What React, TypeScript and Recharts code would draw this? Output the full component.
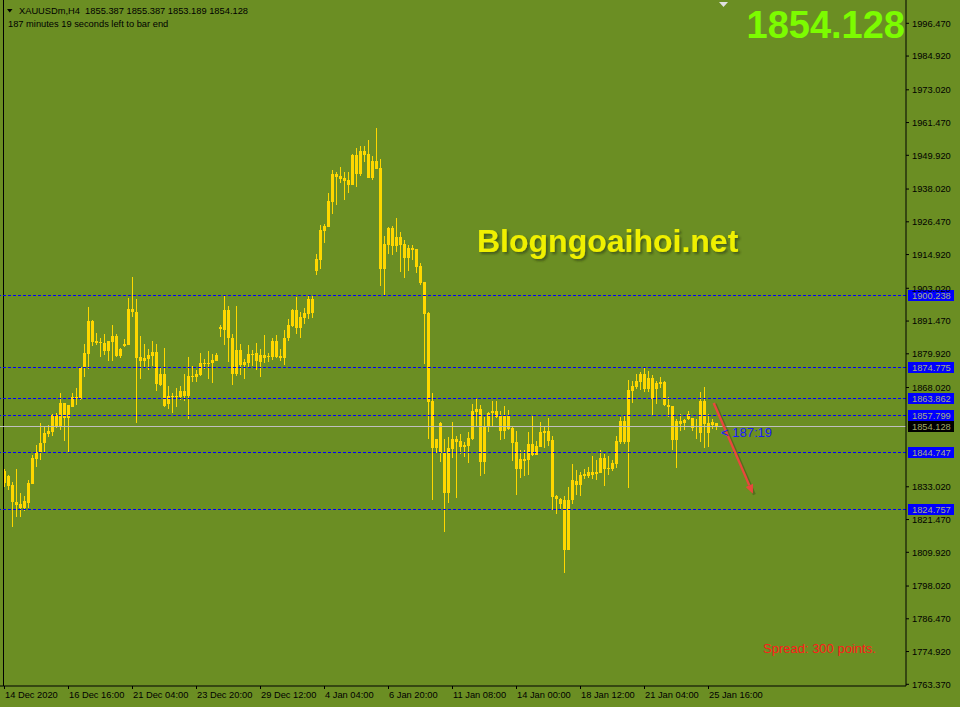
import React from 'react';
import { ComposedChart, Bar, XAxis, YAxis, ReferenceLine } from 'recharts';

// MT4 style XAUUSD H4 chart
const FONT = "Tahoma, 'Liberation Sans', Arial, sans-serif";
const ARIAL = "'Liberation Sans', Arial, sans-serif";
const BG = '#6B8E23';
const GOLD = '#FFD700';

const opens = [
  1838.6, 1836.8, 1833.6, 1827.7, 1825.6, 1825.5, 1827.4, 1834.1, 1842.8, 1845.4,
  1848.6, 1851.8, 1852.4, 1854.2, 1854.2, 1862.6, 1857.4, 1861.3, 1864.2, 1864.0,
  1875.0, 1879.9, 1891.5, 1884.4, 1884.1, 1881.0, 1881.0, 1886.2, 1886.2, 1879.2,
  1882.7, 1883.1, 1895.6, 1894.6, 1878.7, 1877.5, 1878.2, 1880.4, 1880.4, 1872.8,
  1872.8, 1862.1, 1864.6, 1864.6, 1864.8, 1864.9, 1865.1, 1871.9, 1871.9, 1872.5,
  1876.7, 1876.3, 1876.6, 1877.5, 1888.6, 1888.3, 1895.4, 1885.4, 1872.8, 1881.3,
  1876.0, 1876.8, 1879.9, 1880.1, 1877.0, 1879.5, 1878.7, 1884.4, 1884.4, 1878.3,
  1878.5, 1885.4, 1889.6, 1895.4, 1889.0, 1892.5, 1893.8, 1894.4, 1909.1, 1913.0,
  1923.2, 1924.7, 1933.4, 1943.3, 1942.6, 1941.9, 1939.4, 1939.4, 1950.1, 1943.3,
  1951.4, 1950.4, 1941.9, 1947.9, 1945.4, 1909.8, 1918.3, 1924.3, 1917.9, 1921.1,
  1918.6, 1913.7, 1917.2, 1916.9, 1910.9, 1905.3, 1894.3, 1863.3, 1846.7, 1855.5,
  1844.9, 1830.9, 1846.4, 1849.8, 1849.2, 1847.8, 1847.4, 1849.9, 1859.4, 1860.5,
  1841.9, 1854.2, 1858.9, 1859.7, 1858.1, 1852.8, 1858.1, 1853.6, 1848.8, 1839.4,
  1842.8, 1842.5, 1848.1, 1844.3, 1847.2, 1852.7, 1852.7, 1849.5, 1829.8, 1828.7,
  1828.4, 1810.7, 1828.4, 1835.1, 1833.6, 1836.8, 1837.0, 1838.3, 1837.5, 1838.0,
  1843.2, 1839.6, 1839.3, 1841.2, 1848.8, 1856.2, 1848.8, 1866.8, 1868.2, 1870.0,
  1872.7, 1867.4, 1871.5, 1867.6, 1869.2, 1870.0, 1862.0, 1861.4, 1849.4, 1856.2,
  1855.6, 1857.0, 1857.3, 1854.5, 1852.0, 1863.3, 1855.6, 1854.9, 1855.387,
];
const highs = [
  1839.2, 1837.2, 1834.8, 1839.3, 1830.7, 1829.8, 1835.4, 1844.2, 1847.8, 1855.4,
  1854.2, 1854.9, 1858.7, 1858.9, 1866.0, 1862.6, 1861.9, 1866.0, 1867.8, 1875.4,
  1883.4, 1896.4, 1891.8, 1887.1, 1885.4, 1886.9, 1884.4, 1890.1, 1886.9, 1882.1,
  1885.1, 1899.7, 1907.0, 1899.2, 1886.2, 1883.4, 1881.7, 1884.4, 1883.4, 1875.0,
  1881.9, 1868.6, 1866.0, 1868.0, 1868.7, 1872.8, 1878.8, 1875.6, 1874.2, 1880.2,
  1878.2, 1880.9, 1879.9, 1880.2, 1890.2, 1900.4, 1896.8, 1886.9, 1896.8, 1883.4,
  1878.0, 1883.0, 1881.3, 1883.6, 1881.6, 1886.5, 1880.1, 1885.4, 1886.5, 1881.5,
  1888.3, 1892.1, 1895.8, 1899.8, 1894.6, 1896.2, 1900.4, 1900.3, 1915.0, 1925.2,
  1925.7, 1936.6, 1944.7, 1944.0, 1945.8, 1944.0, 1944.0, 1950.5, 1952.6, 1953.2,
  1953.2, 1955.3, 1949.7, 1959.6, 1948.6, 1921.5, 1924.6, 1925.0, 1927.8, 1922.9,
  1920.1, 1918.3, 1918.3, 1916.9, 1911.9, 1905.3, 1894.6, 1866.1, 1849.9, 1855.9,
  1849.9, 1850.5, 1855.9, 1850.9, 1851.8, 1848.8, 1852.3, 1862.2, 1864.0, 1861.9,
  1857.7, 1859.5, 1863.3, 1863.3, 1859.7, 1861.5, 1860.1, 1854.2, 1852.7, 1846.0,
  1846.0, 1852.3, 1857.9, 1849.2, 1855.9, 1854.5, 1857.4, 1850.9, 1830.1, 1829.1,
  1829.8, 1832.9, 1841.1, 1839.0, 1838.3, 1839.3, 1839.9, 1843.9, 1842.5, 1846.0,
  1844.6, 1843.9, 1842.5, 1850.9, 1857.6, 1857.9, 1870.7, 1870.2, 1872.7, 1873.5,
  1875.3, 1873.7, 1872.3, 1870.2, 1871.7, 1870.2, 1864.7, 1861.4, 1857.0, 1858.8,
  1857.0, 1859.6, 1857.3, 1857.0, 1866.4, 1868.2, 1858.8, 1857.0, 1855.387,
];
const lows = [
  1833.1, 1831.9, 1818.9, 1822.5, 1822.5, 1824.6, 1825.4, 1834.1, 1840.1, 1842.5,
  1844.8, 1850.6, 1851.0, 1853.6, 1853.0, 1849.2, 1845.0, 1861.2, 1861.9, 1863.6,
  1871.9, 1874.6, 1882.7, 1883.0, 1878.7, 1879.5, 1877.5, 1877.5, 1878.9, 1878.5,
  1882.4, 1883.1, 1893.0, 1855.4, 1870.9, 1874.8, 1874.2, 1875.6, 1866.9, 1868.6,
  1861.2, 1860.5, 1859.1, 1861.3, 1863.6, 1863.4, 1857.0, 1870.1, 1870.1, 1872.2,
  1874.5, 1871.0, 1869.7, 1877.5, 1886.0, 1883.0, 1877.1, 1868.9, 1872.1, 1872.5,
  1871.0, 1875.4, 1875.6, 1874.2, 1871.9, 1876.6, 1877.0, 1877.7, 1878.3, 1877.5,
  1876.0, 1884.4, 1889.3, 1886.9, 1885.5, 1890.4, 1892.1, 1892.6, 1907.7, 1909.8,
  1919.0, 1924.7, 1929.2, 1932.5, 1940.3, 1934.2, 1936.5, 1939.4, 1938.9, 1942.6,
  1947.6, 1941.9, 1941.2, 1945.1, 1903.8, 1900.7, 1915.1, 1914.8, 1915.8, 1908.8,
  1906.7, 1909.1, 1913.0, 1908.4, 1904.2, 1876.3, 1849.9, 1828.4, 1844.9, 1841.8,
  1817.1, 1827.4, 1843.1, 1829.2, 1844.6, 1843.6, 1841.5, 1849.5, 1854.2, 1836.9,
  1837.5, 1852.4, 1854.5, 1857.4, 1849.5, 1849.8, 1853.0, 1842.1, 1830.1, 1836.2,
  1836.9, 1837.2, 1843.9, 1844.1, 1846.9, 1846.7, 1847.4, 1824.8, 1823.4, 1824.8,
  1802.7, 1810.7, 1827.0, 1830.2, 1829.8, 1835.8, 1836.1, 1835.9, 1835.4, 1837.8,
  1833.3, 1837.2, 1838.6, 1839.7, 1848.1, 1848.1, 1832.6, 1862.4, 1867.6, 1867.0,
  1866.4, 1866.3, 1858.4, 1862.1, 1867.9, 1861.5, 1857.6, 1845.9, 1839.5, 1852.7,
  1852.9, 1856.5, 1852.7, 1850.0, 1848.8, 1846.7, 1847.1, 1853.5, 1853.189,
];
const closes = [
  1834.5, 1833.3, 1827.8, 1826.6, 1827.0, 1828.0, 1834.5, 1843.2, 1845.4, 1848.5,
  1852.0, 1852.6, 1858.2, 1858.3, 1862.6, 1857.4, 1861.9, 1864.6, 1864.6, 1875.2,
  1880.1, 1891.5, 1884.2, 1883.8, 1883.6, 1883.7, 1884.4, 1884.2, 1879.1, 1881.7,
  1883.4, 1895.6, 1894.6, 1878.5, 1877.5, 1878.6, 1879.4, 1879.2, 1869.2, 1868.9,
  1861.6, 1865.0, 1865.1, 1865.1, 1866.8, 1866.8, 1872.1, 1872.1, 1872.8, 1876.7,
  1876.3, 1876.7, 1877.7, 1879.4, 1889.4, 1895.4, 1885.4, 1872.8, 1881.3, 1876.0,
  1876.9, 1879.9, 1879.5, 1877.5, 1879.4, 1878.6, 1879.1, 1878.8, 1878.7, 1879.0,
  1885.4, 1890.0, 1895.4, 1889.1, 1892.9, 1894.3, 1899.1, 1899.1, 1913.2, 1923.6,
  1925.0, 1933.8, 1943.3, 1942.4, 1941.5, 1940.9, 1941.2, 1950.1, 1943.3, 1951.4,
  1950.1, 1941.9, 1947.9, 1945.1, 1909.8, 1918.6, 1924.3, 1917.9, 1921.1, 1918.3,
  1913.7, 1917.2, 1916.5, 1910.5, 1904.9, 1893.9, 1862.9, 1846.7, 1849.9, 1844.9,
  1830.8, 1846.6, 1849.8, 1848.9, 1847.2, 1847.1, 1850.1, 1859.7, 1860.5, 1841.9,
  1854.6, 1859.2, 1859.7, 1857.7, 1852.8, 1858.1, 1853.4, 1848.6, 1839.4, 1842.8,
  1842.2, 1848.1, 1844.1, 1847.4, 1852.3, 1852.1, 1849.2, 1829.4, 1828.7, 1826.9,
  1810.7, 1828.4, 1835.4, 1833.6, 1837.2, 1837.5, 1838.3, 1837.3, 1838.3, 1843.2,
  1839.4, 1839.4, 1841.4, 1849.2, 1856.2, 1848.8, 1867.2, 1868.6, 1870.3, 1872.7,
  1867.6, 1871.5, 1864.1, 1869.7, 1870.0, 1861.8, 1861.3, 1849.4, 1856.1, 1855.3,
  1856.7, 1858.8, 1853.8, 1854.0, 1863.3, 1855.1, 1852.0, 1855.9, 1854.128,
];

// time axis labels, one every 16 bars
const dateTicks = [0, 16, 32, 48, 64, 80, 96, 112, 128, 144, 160, 176];
const dateLabels = [
  '14 Dec 2020', '16 Dec 16:00', '21 Dec 04:00', '23 Dec 20:00', '29 Dec 12:00', '4 Jan 04:00',
  '6 Jan 20:00', '11 Jan 08:00', '14 Jan 00:00', '18 Jan 12:00', '21 Jan 04:00', '25 Jan 16:00',
];

const priceTicks = [
  1996.47, 1984.92, 1973.02, 1961.47, 1949.92, 1938.02, 1926.47, 1914.92, 1903.02, 1891.47,
  1879.92, 1868.02, 1833.02, 1821.47, 1809.92, 1798.02, 1786.47, 1774.92, 1763.37,
];

// horizontal levels drawn on the chart
const levels = [1900.238, 1874.775, 1863.862, 1857.799, 1844.747, 1824.757];
const bidPrice = 1854.128;

const data = opens.map((o, i) => ({
  i,
  o,
  h: highs[i],
  l: lows[i],
  c: closes[i],
  range: [lows[i], highs[i]],
}));

function Candle(props: any) {
  const { x, y, width, height, payload } = props;
  if (x == null || y == null) return null;
  const col = Math.floor(x + width / 2);
  const top = Math.min(y, y + height);
  const h = Math.abs(height);
  const span = payload.h - payload.l;
  const py = (v: number) => (span > 0 ? top + ((payload.h - v) / span) * h : top);
  const wt = Math.round(top);
  const wb = Math.round(top + h);
  const bt = Math.round(py(Math.max(payload.o, payload.c)));
  const bb = Math.round(py(Math.min(payload.o, payload.c)));
  return (
    <g shapeRendering="crispEdges">
      <rect x={col} y={wt} width={1} height={Math.max(1, wb - wt)} fill={GOLD} />
      <rect x={col - 1} y={bt} width={3} height={Math.max(1, bb - bt)} fill={GOLD} />
    </g>
  );
}

function DateTick(props: any) {
  const { x, y, payload } = props;
  const idx = dateTicks.indexOf(payload.value);
  return (
    <text x={x + 0.5} y={y} dy="0.71em" fontSize={9.3} fontFamily={FONT} fill="#000" textAnchor="start">
      {dateLabels[idx]}
    </text>
  );
}

// snap a horizontal line to one pixel row
const hLine = (off: number) => (p: any) => {
  if (p.y1 == null) return null;
  const r = Math.floor(p.y1) - off + 0.5;
  return (
    <line x1={p.x1} x2={p.x2} y1={r} y2={r} stroke={p.stroke} strokeDasharray={p.strokeDasharray} strokeWidth={1} />
  );
};

const priceTag = (value: number, bg: string, fg: string, off: number) => (props: any) => {
  const vb = props.viewBox || {};
  const row = Math.floor(vb.y) - off;
  const x0 = vb.x + vb.width + 2;
  return (
    <g>
      <rect x={x0} y={row - 5} width={46} height={11} fill={bg} />
      <text x={x0 + 4} y={row + 0.5} dy="0.35em" fontSize={9.3} fontFamily={FONT} fill={fg}>
        {value.toFixed(3)}
      </text>
    </g>
  );
};

function Arrow(props: any) {
  const { x1, y1, x2, y2 } = props;
  if (x1 == null) return null;
  const ang = Math.atan2(y2 - y1, x2 - x1);
  const len = 9;
  const wid = 4;
  const bx = x2 - Math.cos(ang) * len;
  const by = y2 - Math.sin(ang) * len;
  const px = -Math.sin(ang) * wid;
  const py = Math.cos(ang) * wid;
  return (
    <g>
      <line x1={x1 + 1.5} y1={y1 + 1} x2={x2 + 1.5} y2={y2 + 1} stroke="#3a4a14" strokeWidth={3} opacity={0.45} />
      <line x1={x1} y1={y1} x2={bx} y2={by} stroke="#e8483c" strokeWidth={2.4} />
      <polygon points={`${x2},${y2} ${bx + px},${by + py} ${bx - px},${by - py}`} fill="#e8483c" />
    </g>
  );
}

export default function App() {
  return (
    <div style={{ position: 'absolute', left: 0, top: 0, width: 960, height: 707, background: BG, overflow: 'hidden' }}>
      <ComposedChart width={960} height={707} data={data} margin={{ top: 0, right: 0, bottom: 0, left: 0 }}>
        <XAxis
          dataKey="i"
          type="number"
          domain={[-1.125, 225.375]}
          allowDataOverflow
          ticks={dateTicks}
          interval={0}
          height={21}
          tick={<DateTick />}
          tickSize={3}
          tickMargin={2}
          axisLine={{ stroke: '#000' }}
          tickLine={{ stroke: '#000' }}
        />
        <YAxis
          orientation="right"
          type="number"
          domain={[1762.77, 2004.687]}
          allowDataOverflow
          ticks={priceTicks}
          interval={0}
          width={54}
          tickSize={3}
          tickMargin={3}
          tickFormatter={(v: number) => v.toFixed(3)}
          tick={{ fill: '#000', fontSize: 9.3, fontFamily: FONT }}
          axisLine={{ stroke: '#000' }}
          tickLine={{ stroke: '#000' }}
        />
        <ReferenceLine x={-0.25} stroke="#000" />
        <Bar dataKey="range" barSize={3} shape={<Candle />} isAnimationActive={false} />
        {levels.map((lv) => (
          <ReferenceLine
            key={lv}
            y={lv}
            stroke="#0000FF"
            strokeDasharray="3 2"
            shape={hLine(1)}
            label={priceTag(lv, '#0000FF', '#a7ae80', 1)}
          />
        ))}
        <ReferenceLine
          y={bidPrice}
          stroke="#C0C0C0"
          shape={hLine(0)}
          label={priceTag(bidPrice, '#000', '#a0a868', 0)}
        />
        <ReferenceLine
          segment={[{ x: 177.3, y: 1862.6 }, { x: 187.1, y: 1830.6 }]}
          shape={<Arrow />}
        />
      </ComposedChart>
      <svg width={960} height={707} style={{ position: 'absolute', left: 0, top: 0, pointerEvents: 'none' }}>
        <defs>
          <filter id="wm" x="-5%" y="-20%" width="110%" height="150%">
            <feDropShadow dx="2" dy="2" stdDeviation="1.2" floodColor="#2f3a0c" floodOpacity="0.6" />
          </filter>
        </defs>
        <polygon points="7,9 12.5,9 9.75,12.5" fill="#000" />
        <text x={19} y={14} fontSize={9.3} fontFamily={FONT} fill="#000" style={{ whiteSpace: 'pre' }}>
          {'XAUUSDm,H4  1855.387 1855.387 1853.189 1854.128'}
        </text>
        <text x={8} y={26.5} fontSize={9.3} fontFamily={FONT} fill="#000">
          187 minutes 19 seconds left to bar end
        </text>
        <polygon points="719,2 728,2 723.5,7" fill="#e0e0e0" />
        <text x={905} y={38} fontSize={38} fontWeight="bold" fontFamily={ARIAL} fill="#7CFC00" textAnchor="end">
          1854.128
        </text>
        <text x={477} y={252} fontSize={32} fontWeight="bold" fontFamily={ARIAL} fill="#f0f000" filter="url(#wm)">
          Blogngoaihoi.net
        </text>
        <text x={721} y={437} fontSize={13} fontFamily={ARIAL} fill="#1a1aff" style={{ whiteSpace: 'pre' }}>
          {'< 187:19'}
        </text>
        <text x={763} y={653} fontSize={13} fontFamily={ARIAL} fill="#ff1a1a">
          Spread: 300 points.
        </text>
      </svg>
    </div>
  );
}
